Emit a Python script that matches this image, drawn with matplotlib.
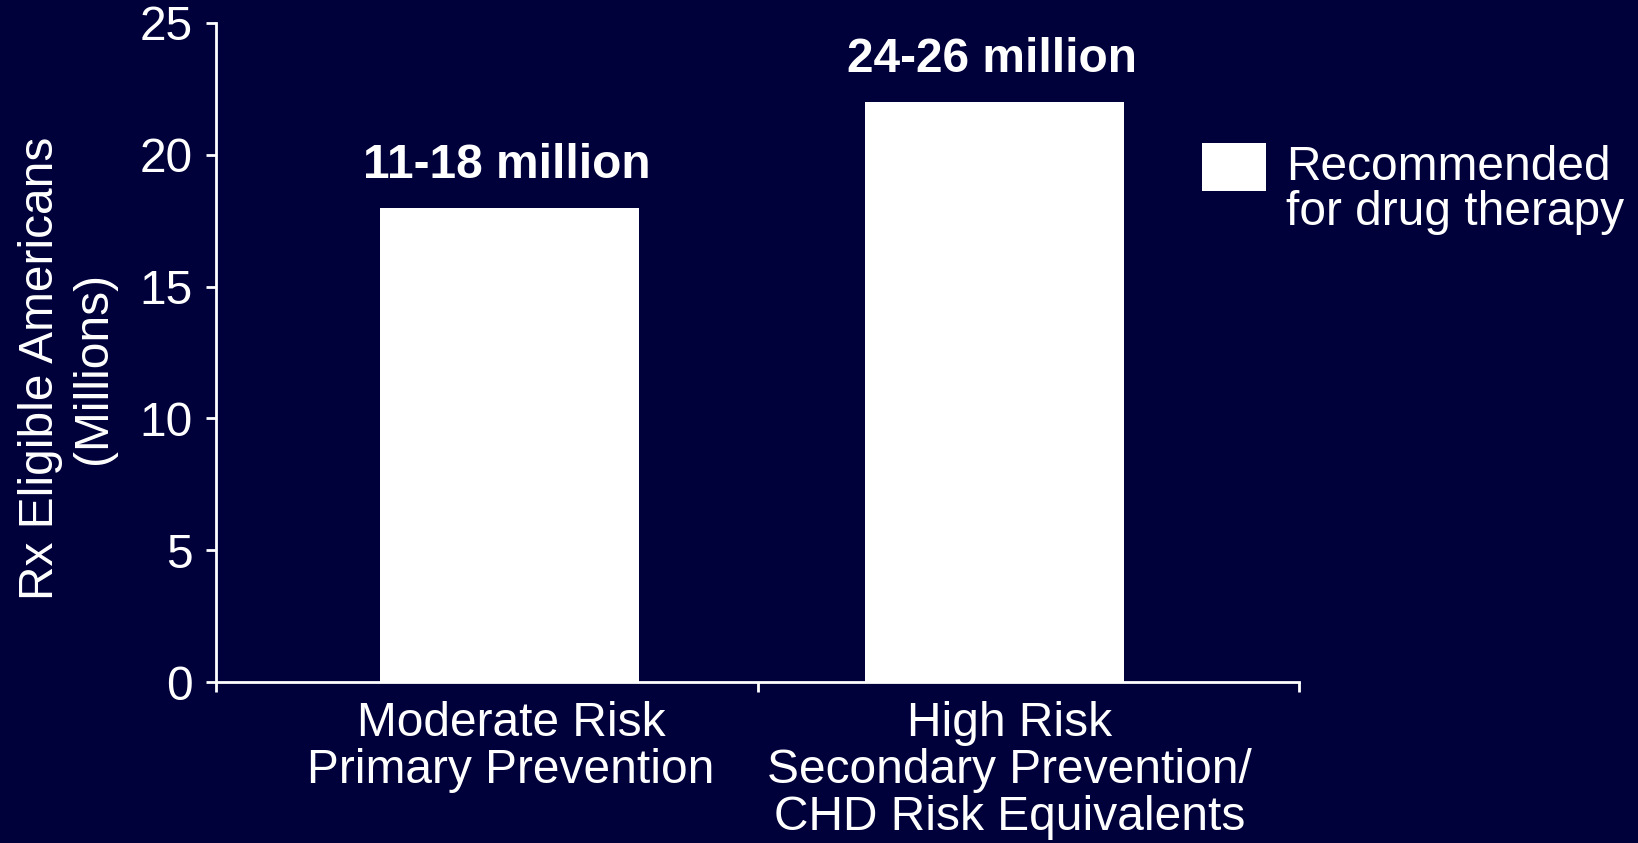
import numpy as np
import matplotlib
matplotlib.use("Agg")
from matplotlib import pyplot as plt
from matplotlib.patches import Rectangle

# Rx-eligible population by risk group (millions)
categories = ["Moderate Risk\nPrimary Prevention",
              "High Risk\nSecondary Prevention/\nCHD Risk Equivalents"]
values = [18, 22]
range_labels = ["11-18 million", "24-26 million"]
legend_label = "Recommended\nfor drug therapy"
y_ticks = [0, 5, 10, 15, 20, 25]

bg = "#00003a"
fg = "white"
fs = 34.5

plt.rcParams["font.family"] = ["Liberation Sans", "DejaVu Sans"]

fig = plt.figure(figsize=(16.38, 8.43), dpi=100, facecolor=bg)
ax = fig.add_axes([216 / 1638, 1 - 682 / 843, 1083 / 1638, 659 / 843])
ax.set_facecolor(bg)

# bars sit slightly off the category centres
pos = np.arange(len(values)) + np.array([0.042, -0.062])
bars = ax.bar(pos, values, width=0.478, color=fg, edgecolor="none", zorder=3)

for b, txt in zip(bars, range_labels):
    ax.annotate(txt, (b.get_x() + b.get_width() / 2, b.get_height()),
                xytext=(-2, 21.5), textcoords="offset points",
                ha="center", va="baseline", color=fg, fontsize=fs,
                fontweight="bold")

ax.set_xlim(-0.5, 1.5)
ax.set_ylim(0, 25)

# y axis
ax.set_yticks(y_ticks)
ax.set_yticklabels([str(t) for t in y_ticks])
ax.tick_params(axis="y", colors=fg, labelsize=fs, length=7.5, width=2, pad=9)

# x axis: separators as minor ticks, labels on unmarked major ticks
ax.set_xticks(np.arange(len(values)) + np.array([0.045, -0.035]))
ax.set_xticklabels(categories, linespacing=1.05)
ax.set_xticks([-0.5, 0.5, 1.5], minor=True)
ax.tick_params(axis="x", which="major", length=0, labelsize=fs, colors=fg,
               pad=14)
ax.tick_params(axis="x", which="minor", length=7.5, width=2, color=fg)

for side in ["top", "right"]:
    ax.spines[side].set_visible(False)
for side in ["left", "bottom"]:
    ax.spines[side].set_color(fg)
    ax.spines[side].set_linewidth(2)

ax.set_ylabel("Rx Eligible Americans\n(Millions)", color=fg, fontsize=fs,
              ha="center", va="center", rotation_mode="default",
              linespacing=1.25)
ax.yaxis.set_label_coords(-0.1376, 0.476)

# legend swatch and text
fig.add_artist(Rectangle((1202 / 1638, 1 - 191 / 843), 64 / 1638, 48 / 843,
                         transform=fig.transFigure, facecolor=fg,
                         edgecolor="none"))
fig.text(1286 / 1638, 1 - 225 / 843, legend_label, color=fg, fontsize=fs,
         ha="left", va="baseline", linespacing=1.0)

fig.savefig("out.png", dpi=100, facecolor=bg)
